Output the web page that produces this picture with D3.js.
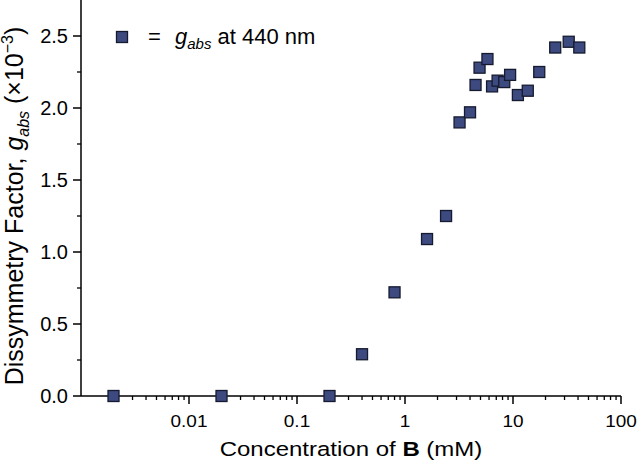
<!DOCTYPE html>
<html>
<head>
<meta charset="utf-8">
<script src="https://cdn.jsdelivr.net/npm/d3@7"></script>
<style>
  body { margin: 0; background: #fff; }
  svg { display: block; font-family: "Liberation Sans", Arial, sans-serif; }
</style>
</head>
<body>
<div id="chart"></div>
<script>
// concentration of B (mM) and g_abs at 440 nm (x10^-3)
const concB = [0.002, 0.02, 0.2, 0.4, 0.8, 1.6, 2.4, 3.2, 4.0, 4.5, 4.9, 5.8, 6.4, 7.2, 8.3, 9.4, 11.1, 13.7, 17.5, 24.6, 32.8, 41.1];
const gAbs  = [0, 0, 0, 0.29, 0.72, 1.09, 1.25, 1.90, 1.97, 2.16, 2.28, 2.34, 2.15, 2.19, 2.18, 2.23, 2.09, 2.12, 2.25, 2.42, 2.46, 2.42];
const xTickVals = [0.01, 0.1, 1, 10, 100];
const xTickLabels = ['0.01', '0.1', '1', '10', '100'];
const yTickVals = [0, 0.5, 1.0, 1.5, 2.0, 2.5];

(function(){
  const W = 638, H = 471;
  const margin = { top: 0, right: 17, bottom: 75, left: 81 };
  const fill = '#3c4a80', edge = '#161a2e';

  const svg = d3.select('#chart').append('svg').attr('width', W).attr('height', H);

  const x = d3.scaleLog().domain([0.001, 100]).range([margin.left, W - margin.right]);
  const y = d3.scaleLinear().domain([0, 2.75]).range([H - margin.bottom, margin.top]);

  // minor ticks
  const xMinor = [];
  [0.001, 0.01, 0.1, 1, 10].forEach(d => { for (let k = 2; k <= 9; k++) xMinor.push(d * k); });
  const yMinor = d3.range(0.25, 2.75, 0.5);

  const xAxis = svg.append('g').attr('transform', `translate(0,${y(0)})`);
  xAxis.append('line').attr('x1', x(0.001)).attr('x2', x(100)).attr('stroke', '#000').attr('stroke-width', 1.5);
  xAxis.selectAll('line.minor').data(xMinor).enter().append('line').attr('class', 'minor')
    .attr('x1', d => x(d)).attr('x2', d => x(d)).attr('y1', 0).attr('y2', 4)
    .attr('stroke', '#000').attr('stroke-width', 1.3);
  xAxis.selectAll('line.major').data(xTickVals).enter().append('line').attr('class', 'major')
    .attr('x1', d => x(d)).attr('x2', d => x(d)).attr('y1', 0).attr('y2', 8)
    .attr('stroke', '#000').attr('stroke-width', 1.5);
  // tick labels look slightly squashed vertically in the original
  xAxis.selectAll('text').data(xTickVals).enter().append('text')
    .attr('transform', d => `translate(${x(d)},31) scale(1,0.9)`).attr('text-anchor', 'middle')
    .style('font-size', '19px').text((d, i) => xTickLabels[i]);

  const yAxis = svg.append('g').attr('transform', `translate(${x(0.001)},0)`);
  yAxis.append('line').attr('y1', y(0)).attr('y2', y(2.75)).attr('stroke', '#000').attr('stroke-width', 1.5);
  yAxis.selectAll('line.minor').data(yMinor).enter().append('line').attr('class', 'minor')
    .attr('y1', d => y(d)).attr('y2', d => y(d)).attr('x1', 0).attr('x2', -4)
    .attr('stroke', '#000').attr('stroke-width', 1.3);
  yAxis.selectAll('line.major').data(yTickVals).enter().append('line').attr('class', 'major')
    .attr('y1', d => y(d)).attr('y2', d => y(d)).attr('x1', 0).attr('x2', -8)
    .attr('stroke', '#000').attr('stroke-width', 1.5);
  yAxis.selectAll('text').data(yTickVals).enter().append('text')
    .attr('x', -13).attr('y', d => y(d)).attr('dy', '0.36em').attr('text-anchor', 'end')
    .style('font-size', '20px').text(d => d3.format('.1f')(d));

  // axis titles
  const xt = svg.append('text').attr('transform', 'translate(351,456) scale(1,0.82)')
    .attr('text-anchor', 'middle').style('font-size', '24px');
  xt.append('tspan').text('Concentration of ');
  xt.append('tspan').style('font-weight', 'bold').text('B');
  xt.append('tspan').text(' (mM)');

  const yt = svg.append('text').attr('transform', 'translate(23,206) rotate(-90)')
    .attr('text-anchor', 'middle').style('font-size', '25px');
  yt.append('tspan').text('Dissymmetry Factor, ');
  yt.append('tspan').style('font-style', 'italic').text('g');
  yt.append('tspan').attr('dy', 6).style('font-size', '16px').style('font-style', 'italic').text('abs');
  yt.append('tspan').attr('dy', -6).text(' (×10');
  yt.append('tspan').attr('dy', -10).style('font-size', '16px').text('−3');
  yt.append('tspan').attr('dy', 10).text(')');

  // points
  const s = 11;
  const data = concB.map((c, i) => ({ c, g: gAbs[i] }));
  svg.append('g').selectAll('rect').data(data).enter().append('rect')
    .attr('x', d => x(d.c) - s / 2).attr('y', d => y(d.g) - s / 2)
    .attr('width', s).attr('height', s)
    .attr('fill', fill).attr('stroke', edge).attr('stroke-width', 1.3);

  // legend
  const lg = svg.append('g').attr('transform', 'translate(122,37)');
  lg.append('rect').attr('x', -s / 2).attr('y', -s / 2).attr('width', s).attr('height', s)
    .attr('fill', fill).attr('stroke', edge).attr('stroke-width', 1.3);
  lg.append('text').attr('x', 26).attr('y', 7).style('font-size', '22px').text('=');
  const lt = lg.append('text').attr('x', 53).attr('y', 7).style('font-size', '22px');
  lt.append('tspan').style('font-style', 'italic').text('g');
  lt.append('tspan').attr('dy', 5).style('font-size', '15px').style('font-style', 'italic').text('abs');
  lt.append('tspan').attr('dy', -5).text(' at 440 nm');
})();
</script>
</body>
</html>
